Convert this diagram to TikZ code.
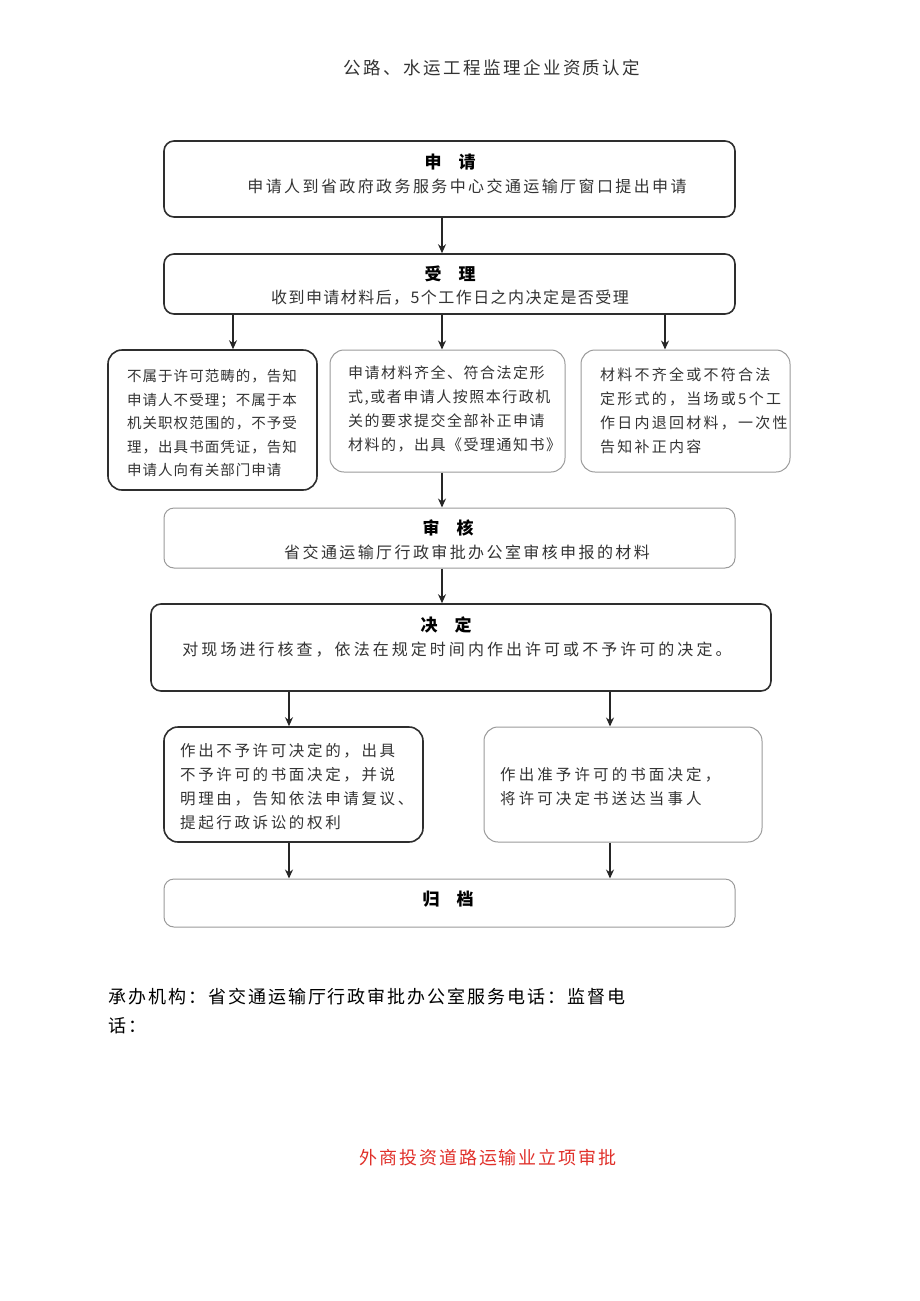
\documentclass[tikz,border=0pt]{standalone}
\usepackage{fontspec}
\setmainfont{Noto Sans CJK SC}
\usetikzlibrary{arrows.meta}
\newcommand\tf[3]{\fontsize{#1}{#3}\selectfont\addfontfeatures{LetterSpace=#2}}
\definecolor{txt}{HTML}{333333}
\definecolor{dkline}{HTML}{2E2E2E}
\definecolor{ltline}{HTML}{9A9A9A}
\definecolor{redtxt}{HTML}{E0302A}
\begin{document}
\begin{tikzpicture}[x=1pt,y=1pt,
  dkbox/.style={draw=dkline, line width=1.6pt, rounded corners=10pt, inner sep=0pt},
  ltbox/.style={draw=ltline, line width=1pt, rounded corners=10pt, inner sep=0pt},
  arr/.style={-{Stealth[length=9pt,width=8pt]}, line width=1.4pt, draw=black!85},
  head/.style={inner sep=0pt, font=\tf{17}{0}{20}\bfseries, text=black},
  body/.style={inner sep=0pt, text=txt, align=left}]
\useasboundingbox (0,0) rectangle (920,-1301);

% title
\node[inner sep=0pt, text=txt, font=\tf{17.5}{14}{20}] (title) at (492,-68) {公路、水运工程监理企业资质认定};

% boxes
\node[dkbox, minimum width=571pt, minimum height=76pt] (b1) at (449.5,-179) {};
\node[dkbox, minimum width=571pt, minimum height=60pt] (b2) at (449.5,-284) {};
\node[dkbox, rounded corners=14pt, minimum width=209pt, minimum height=140pt] (b3a) at (212.5,-420) {};
\node[ltbox, rounded corners=14pt, minimum width=235pt, minimum height=122pt] (b3b) at (447.5,-411) {};
\node[ltbox, rounded corners=14pt, minimum width=209pt, minimum height=122pt] (b3c) at (685.5,-411) {};
\node[ltbox, minimum width=571pt, minimum height=60pt] (b4) at (449.5,-538) {};
\node[dkbox, minimum width=620pt, minimum height=87pt] (b5) at (461,-647.5) {};
\node[dkbox, rounded corners=14pt, minimum width=259pt, minimum height=115pt] (b6a) at (293.5,-784.5) {};
\node[ltbox, rounded corners=14pt, minimum width=278pt, minimum height=115pt] (b6b) at (623,-784.5) {};
\node[ltbox, minimum width=571pt, minimum height=48pt] (b7) at (449.5,-903) {};

% texts
\node[head] (h1) at (450,-162) {申\hspace{17pt}请};
\node[body, font=\tf{16}{15}{20}] (l1) at (467,-186) {申请人到省政府政务服务中心交通运输厅窗口提出申请};
\node[head] (h2) at (450,-274) {受\hspace{17pt}理};
\node[body, font=\tf{16}{9}{20}] (l2) at (450,-298) {收到申请材料后，5个工作日之内决定是否受理};
\node[body, anchor=west, font=\tf{14.5}{7}{23.5}] (t3a) at (127,-423)
  {不属于许可范畴的，告知\\申请人不受理；不属于本\\机关职权范围的，不予受\\理，出具书面凭证，告知\\申请人向有关部门申请};
\node[body, anchor=west, font=\tf{15}{10}{24}] (t3b) at (348,-409)
  {申请材料齐全、符合法定形\\式,或者申请人按照本行政机\\关的要求提交全部补正申请\\材料的，出具《受理通知书》};
\node[body, anchor=west, font=\tf{15}{15}{24}] (t3c) at (600,-411)
  {材料不齐全或不符合法\\定形式的，当场或5个工\\作日内退回材料，一次性\\告知补正内容};
\node[head] (h4) at (448,-528) {审\hspace{17pt}核};
\node[body, font=\tf{16}{15}{20}] (l4) at (467,-552) {省交通运输厅行政审批办公室审核申报的材料};
\node[head] (h5) at (446,-625) {决\hspace{17pt}定};
\node[body, font=\tf{16}{19}{20}] (l5) at (457,-650) {对现场进行核查，依法在规定时间内作出许可或不予许可的决定。};
\node[body, anchor=west, font=\tf{15.5}{17}{24}] (t6a) at (180,-787)
  {作出不予许可决定的，出具\\不予许可的书面决定，并说\\明理由，告知依法申请复议、\\提起行政诉讼的权利};
\node[body, anchor=west, font=\tf{15.5}{20}{24}] (t6b) at (500,-787)
  {作出准予许可的书面决定，\\将许可决定书送达当事人};
\node[head] (h7) at (448,-899) {归\hspace{17pt}档};

% footer
\node[body, anchor=west, text=black, font=\tf{18}{11}{29}] (foot) at (108,-1011.5)
  {承办机构：省交通运输厅行政审批办公室服务电话：监督电\\话：};
\node[inner sep=0pt, text=redtxt, font=\tf{18}{11}{20}] (red) at (488,-1158) {外商投资道路运输业立项审批};

% arrows
\draw[arr] (b1.south -| 442,0) -- (b2.north -| 442,0);
\draw[arr] (b2.south -| 233,0) -- (b3a.north -| 233,0);
\draw[arr] (b2.south -| 442,0) -- (b3b.north -| 442,0);
\draw[arr] (b2.south -| 665,0) -- (b3c.north -| 665,0);
\draw[arr] (b3b.south -| 442,0) -- (b4.north -| 442,0);
\draw[arr] (b4.south -| 442,0) -- (b5.north -| 442,0);
\draw[arr] (b5.south -| 289,0) -- (b6a.north -| 289,0);
\draw[arr] (b5.south -| 610,0) -- (b6b.north -| 610,0);
\draw[arr] (b6a.south -| 289,0) -- (b7.north -| 289,0);
\draw[arr] (b6b.south -| 610,0) -- (b7.north -| 610,0);
\end{tikzpicture}
\end{document}
